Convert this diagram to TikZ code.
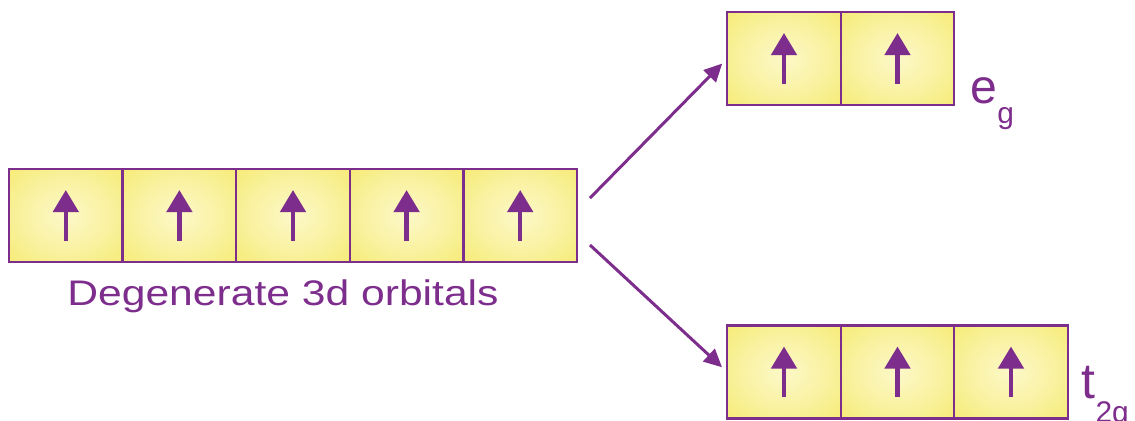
\documentclass[tikz,border=0pt]{standalone}
\usepackage{fontspec}
\setmainfont{Liberation Sans}
\usetikzlibrary{arrows.meta}
\definecolor{orbpurple}{RGB}{125,45,140}
\definecolor{boxin}{RGB}{252,248,200}
\definecolor{boxout}{RGB}{246,235,118}
\pgfdeclareradialshading{orbshade}{\pgfpoint{0bp}{0bp}}{color(0bp)=(boxin); color(18bp)=(boxin!55!boxout); color(36bp)=(boxout); color(50bp)=(boxout)}
\tikzset{
  orb/.style={draw=orbpurple, line width=0.65pt, shading=orbshade, minimum width=1.136cm, minimum height=0.93cm, inner sep=0pt, outer sep=0pt},
  spin/.style={draw=orbpurple, line width=1.3pt, -{Triangle[length=0.22cm,width=0.25cm]}},
  split/.style={draw=orbpurple, line width=0.85pt, -{Triangle[length=0.18cm,width=0.17cm]}},
  lbl/.style={text=orbpurple, inner sep=0pt}
}
\begin{document}
\begin{tikzpicture}[x=0.01cm,y=-0.01cm]
\useasboundingbox (0,0) rectangle (1135,420);
% degenerate row
\node[orb] (d1) at (65.8,215.5) {};
\node[orb] (d2) at (179.4,215.5) {};
\node[orb] (d3) at (293,215.5) {};
\node[orb] (d4) at (406.6,215.5) {};
\node[orb] (d5) at (520.2,215.5) {};
% eg row
\node[orb] (e1) at (784,58.5) {};
\node[orb] (e2) at (897.5,58.5) {};
% t2g row
\node[orb] (t1) at (784,372) {};
\node[orb] (t2) at (897.5,372) {};
\node[orb] (t3) at (1011,372) {};
% spins
\foreach \n in {d1,d2,d3,d4,d5,e1,e2,t1,t2,t3}{
  \draw[spin] ([yshift=-0.25cm]\n.center) -- ([yshift=0.255cm]\n.center);
}
% labels
\node[lbl, anchor=base, xscale=1.2, font=\fontsize{10.1}{11}\selectfont] (deglbl) at (283,305) {Degenerate 3d orbitals};
\node[lbl, anchor=base west] (eglbl) at (970,103) {{\fontsize{13.7}{14}\selectfont e}\raisebox{-0.2cm}{\fontsize{8.5}{9}\selectfont g}};
\node[lbl, anchor=base west] (tlbl) at (1081,398) {{\fontsize{14.2}{15}\selectfont t}\raisebox{-0.24cm}{\fontsize{8.5}{9}\selectfont 2g}};
% splitting arrows
\coordinate (s1) at (590,198);
\coordinate (s2) at (590,245);
\draw[split, shorten >=0.07cm] (s1) -- (e1.west);
\draw[split, shorten >=0.07cm] (s2) -- (t1.west);
\end{tikzpicture}
\end{document}
